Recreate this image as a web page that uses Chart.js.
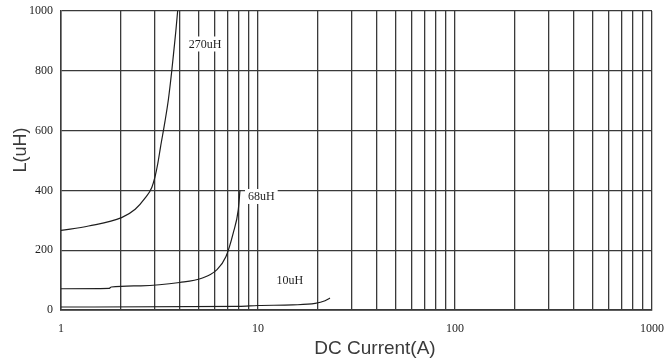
<!DOCTYPE html>
<html>
<head>
<meta charset="utf-8">
<script src="https://cdn.jsdelivr.net/npm/chart.js@4/dist/chart.umd.min.js"></script>
<style>
  html, body { margin: 0; padding: 0; background: #fff; }
  #wrap { width: 672px; height: 364px; }
</style>
</head>
<body>
<div id="wrap"><canvas id="c" width="672" height="364"></canvas></div>
<script>
// ---- data ----
const current270 = [1, 1.38, 2.03, 2.38, 2.67, 2.89, 3.0, 3.1, 3.2, 3.37, 3.51, 3.65, 3.75, 3.83, 3.91];
const induct270  = [266, 281, 309, 337, 374, 410, 445, 490, 545, 630, 705, 800, 875, 935, 1000];

const current68 = [1, 1.75, 1.8, 2.54, 4.0, 5.18, 6.17, 6.88, 7.49, 7.94, 8.1];
const induct68  = [71, 72, 77, 81, 92, 106, 134, 179, 258, 335, 400];

const current10 = [1, 8, 10, 15, 19.5, 21.9, 23.2];
const induct10  = [10, 12, 15, 17, 22, 31, 40];

const seriesNames = ['270uH', '68uH', '10uH'];
const labelAnchorX = [5.38, 10.4, 14.5];
const labelAnchorY = [888, 378, 97];

const xGridValues = [1,2,3,4,5,6,7,8,9,10,20,30,40,50,60,70,80,90,100,200,300,400,500,600,700,800,900,1000];
const xLabelValues = [1, 10, 100, 1000];
const yTickValues = [0, 200, 400, 600, 800, 1000];

const xTitle = 'DC Current(A)';
const yTitle = 'L(uH)';

function pts(xs, ys) { return xs.map((x, i) => ({ x: x, y: ys[i] })); }

const GRID = '#3a3a3a';
const INK = '#1e1e1e';

const curveLabels = {
  id: 'curveLabels',
  beforeDatasetsDraw(chart) {
    const { ctx, scales } = chart;
    ctx.save();
    ctx.font = '12px "Liberation Serif", "DejaVu Serif", serif';
    ctx.textAlign = 'center';
    ctx.textBaseline = 'middle';
    seriesNames.forEach((name, i) => {
      const px = scales.x.getPixelForValue(labelAnchorX[i]);
      const py = scales.y.getPixelForValue(labelAnchorY[i]);
      const w = ctx.measureText(name).width + 6;
      ctx.fillStyle = '#fff';
      ctx.fillRect(px - w / 2, py - 8, w, 15);
      ctx.fillStyle = INK;
      ctx.fillText(name, px, py);
    });
    ctx.restore();
  }
};

const axisTitles = {
  id: 'axisTitles',
  afterDraw(chart) {
    const { ctx, chartArea } = chart;
    ctx.save();
    ctx.fillStyle = '#3a3a3a';
    ctx.font = '19px "Liberation Sans", Arial, sans-serif';
    ctx.textAlign = 'center';
    ctx.textBaseline = 'middle';
    ctx.fillText(xTitle, chartArea.left + 314, chart.height - 15);
    ctx.translate(21, chartArea.top + 139);
    ctx.rotate(-Math.PI / 2);
    ctx.font = '18px "Liberation Sans", Arial, sans-serif';
    ctx.fillText(yTitle, 0, 0);
    ctx.restore();
  }
};

const lineStyle = {
  borderColor: INK,
  borderWidth: 1.2,
  pointRadius: 0,
  fill: false,
  cubicInterpolationMode: 'monotone'
};

new Chart(document.getElementById('c'), {
  type: 'line',
  data: {
    datasets: [
      Object.assign({ label: seriesNames[0], data: pts(current270, induct270) }, lineStyle),
      Object.assign({ label: seriesNames[1], data: pts(current68, induct68) }, lineStyle),
      Object.assign({ label: seriesNames[2], data: pts(current10, induct10) }, lineStyle)
    ]
  },
  options: {
    responsive: false,
    animation: false,
    events: [],
    layout: { padding: { top: 11, right: 20, left: 0, bottom: 0 } },
    plugins: { legend: { display: false }, tooltip: { enabled: false } },
    scales: {
      x: {
        type: 'logarithmic',
        min: 1,
        max: 1000,
        afterBuildTicks(scale) { scale.ticks = xGridValues.map(v => ({ value: v })); },
        afterFit(scale) { scale.height = 54; scale.paddingLeft = 0; scale.paddingRight = 0; },
        ticks: {
          autoSkip: false,
          maxRotation: 0,
          padding: 12,
          color: INK,
          font: { family: '"Liberation Serif", "DejaVu Serif", serif', size: 12 },
          callback(v) { return xLabelValues.includes(v) ? String(v) : ''; }
        },
        grid: { color: GRID, lineWidth: 1.3, drawTicks: false },
        border: { color: GRID, width: 1.8 }
      },
      y: {
        type: 'linear',
        min: 0,
        max: 1000,
        afterBuildTicks(scale) { scale.ticks = yTickValues.map(v => ({ value: v })); },
        afterFit(scale) { scale.width = 61; scale.paddingTop = 0; scale.paddingBottom = 0; },
        ticks: {
          padding: 8,
          color: INK,
          font: { family: '"Liberation Serif", "DejaVu Serif", serif', size: 12 },
          callback(v) { return String(v); }
        },
        grid: { color: GRID, lineWidth: 1.3, drawTicks: false },
        border: { color: GRID, width: 1.5 }
      }
    }
  },
  plugins: [curveLabels, axisTitles]
});
</script>
</body>
</html>
